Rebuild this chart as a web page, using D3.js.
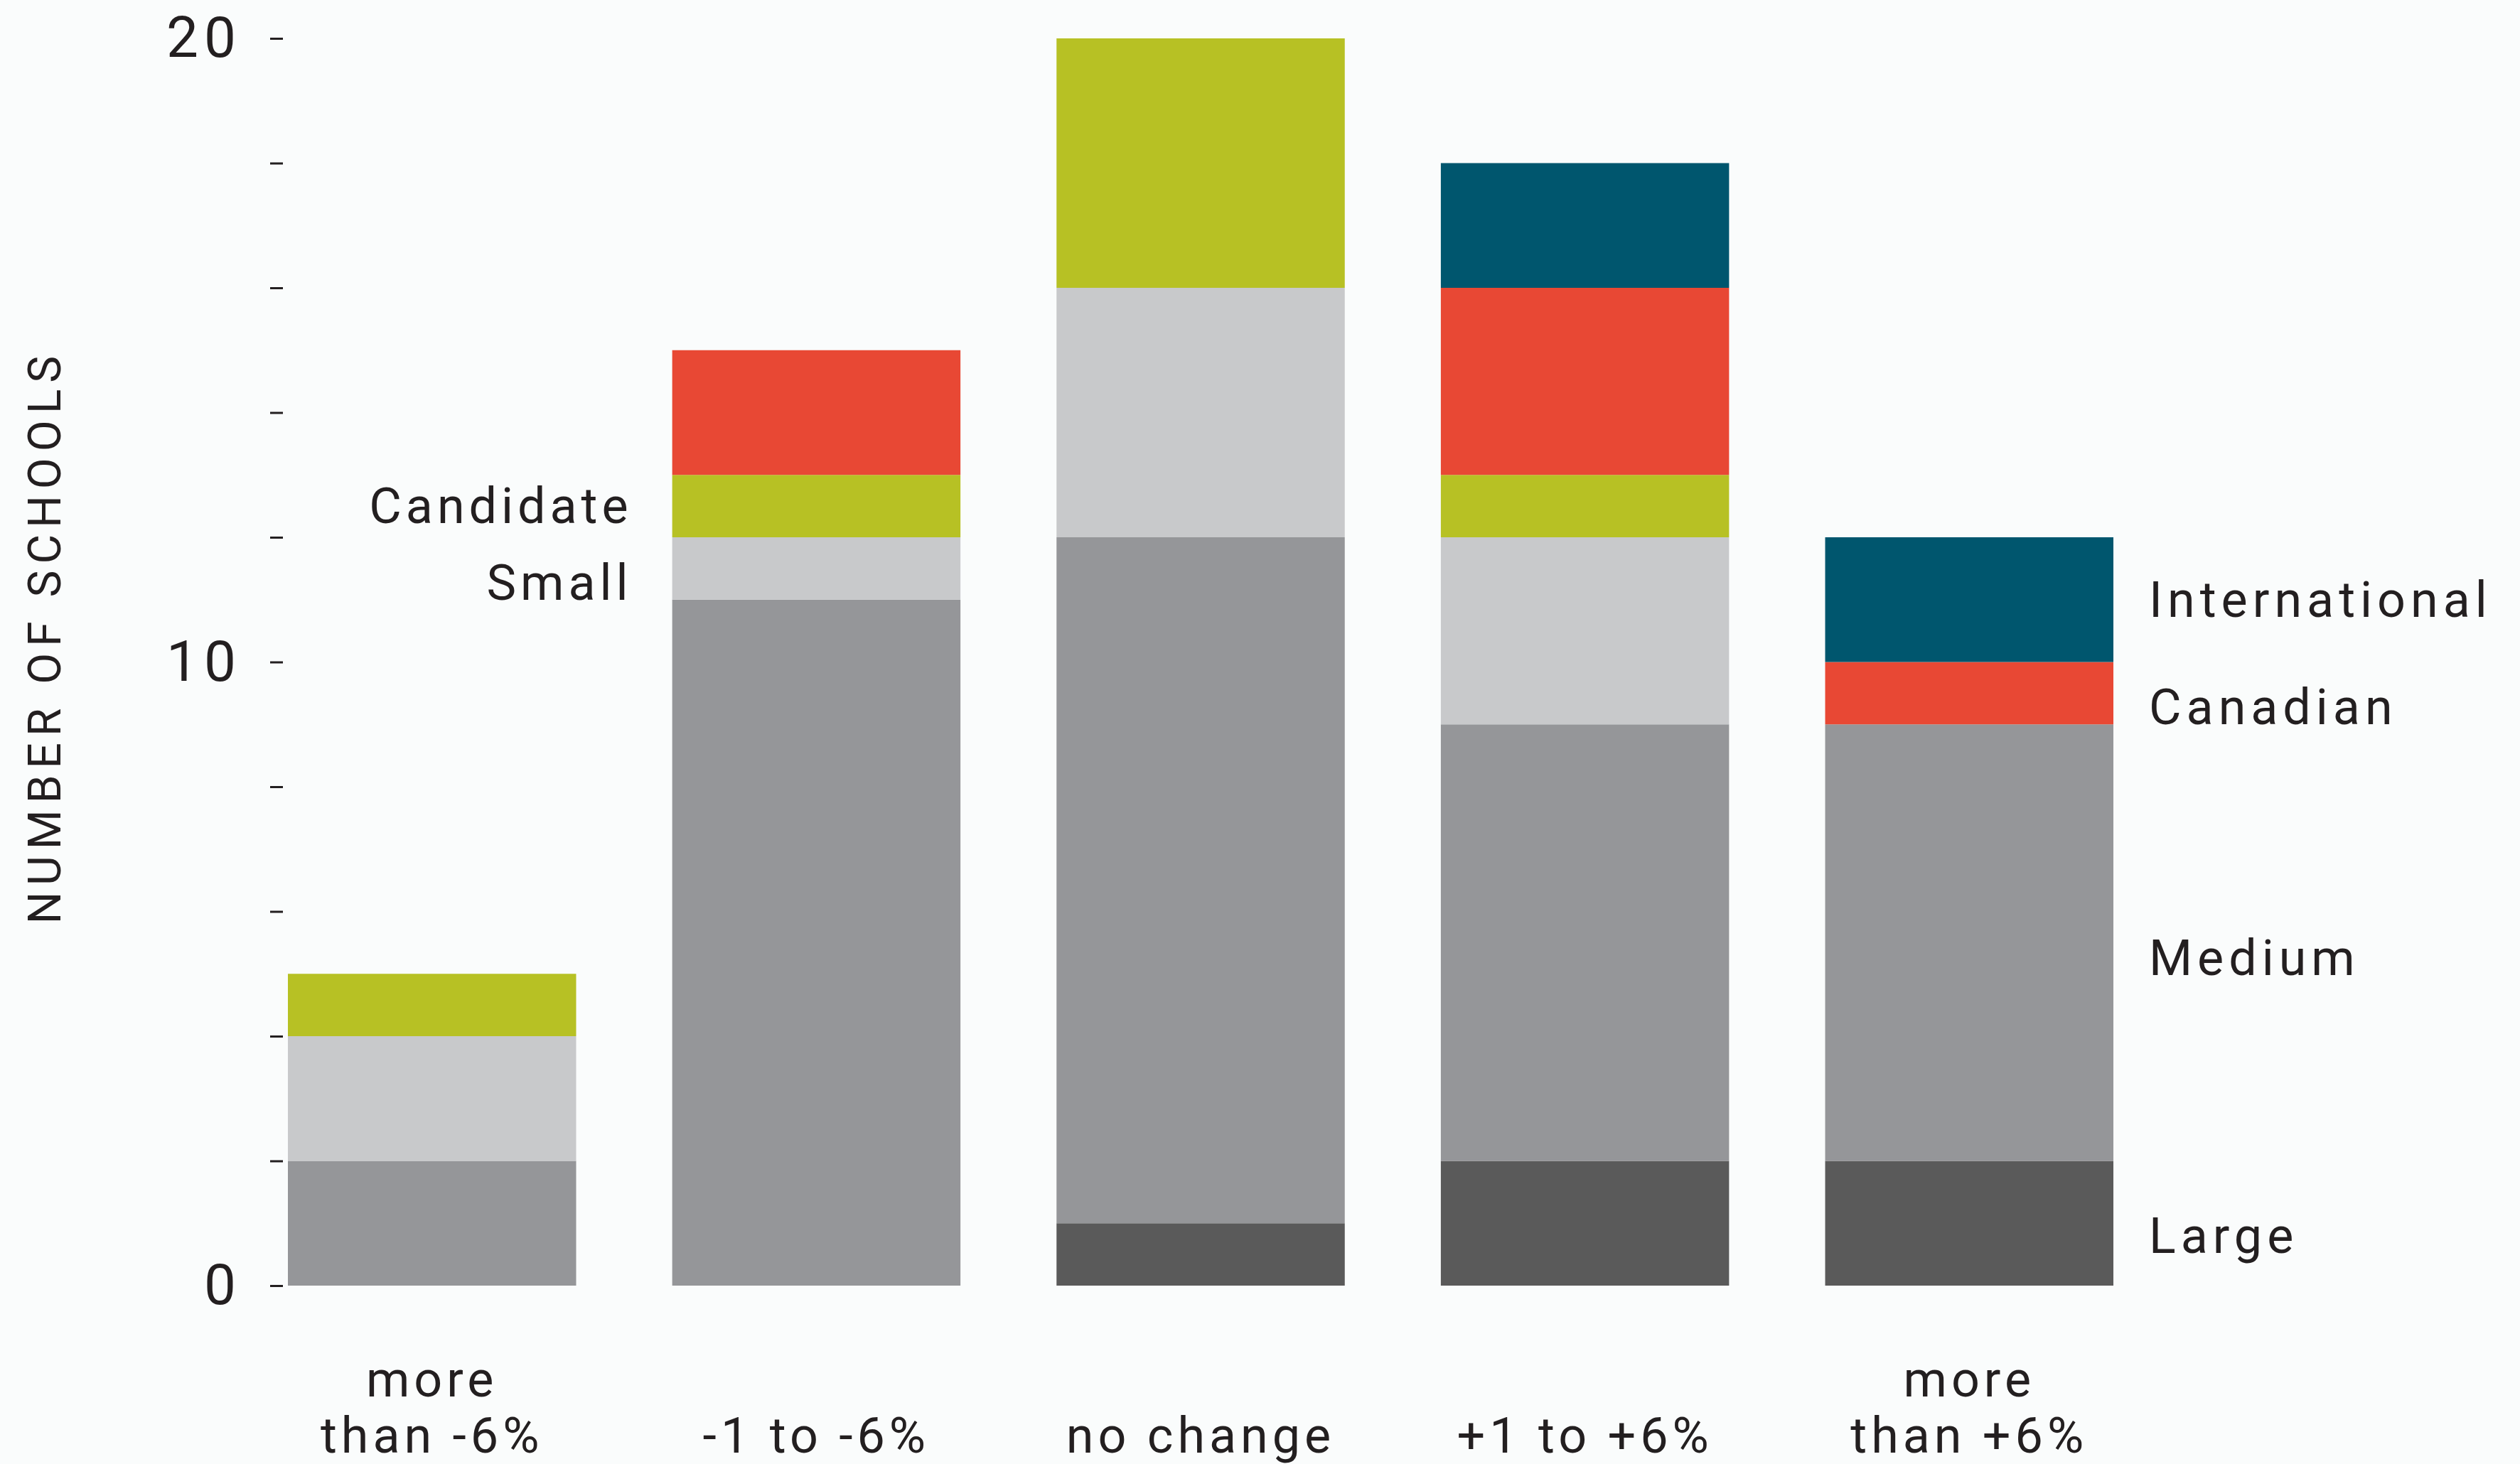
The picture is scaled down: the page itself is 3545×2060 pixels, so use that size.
<!DOCTYPE html>
<html>
<head>
<meta charset="utf-8">
<script src="https://cdn.jsdelivr.net/npm/d3@7"></script>
<style>
  html, body { margin: 0; padding: 0; background: #fafcfc; }
  svg { display: block; }
  text { font-family: Roboto, "Noto Sans", sans-serif; font-weight: 400; fill: #231f20; }
</style>
</head>
<body>
<script>
const width = 3545;
const height = 2060;

// data
const categories = ["more|than -6%", "-1 to -6%", "no change", "+1 to +6%", "more|than +6%"];
const seriesNames = ["Large", "Medium", "Small", "Candidate", "Canadian", "International"];
const large         = [0, 0, 1, 2, 2];
const medium        = [2, 11, 11, 7, 7];
const small         = [2, 1, 4, 3, 0];
const candidate     = [1, 1, 4, 1, 0];
const canadian      = [0, 2, 0, 3, 1];
const international = [0, 0, 0, 2, 2];
const yTicks = [0, 2, 4, 6, 8, 10, 12, 14, 16, 18, 20];
const yTickLabels = {0: "0", 10: "10", 20: "20"};

const colors = {
  Large: "#5a5a5a",
  Medium: "#959699",
  Small: "#c8c9cb",
  Candidate: "#b7c124",
  Canadian: "#e84834",
  International: "#00566e"
};

let rows = categories.map((c, i) => ({
  cat: c,
  Large: large[i],
  Medium: medium[i],
  Small: small[i],
  Candidate: candidate[i],
  Canadian: canadian[i],
  International: international[i]
}));

let stacked = d3.stack().keys(seriesNames)(rows);

let x = d3.scaleBand()
  .domain(categories)
  .range([405, 2973])
  .paddingInner(0.25)
  .paddingOuter(0);

let y = d3.scaleLinear()
  .domain([0, 20])
  .range([1809, 54]);

let svg = d3.select("body")
  .append("svg")
    .attr("width", width)
    .attr("height", height);

svg.append("rect")
  .attr("width", width)
  .attr("height", height)
  .attr("fill", "#fafcfc");

// bars
svg.append("g")
  .selectAll("g")
  .data(stacked)
  .enter()
  .append("g")
    .attr("fill", d => colors[d.key])
  .selectAll("rect")
  .data(d => d)
  .enter()
  .append("rect")
    .attr("x", d => x(d.data.cat))
    .attr("y", d => y(d[1]))
    .attr("width", x.bandwidth())
    .attr("height", d => y(d[0]) - y(d[1]));

// y axis
let yAxis = svg.append("g")
  .attr("transform", "translate(398,0)")
  .call(d3.axisLeft(y)
    .tickValues(yTicks)
    .tickSize(18)
    .tickPadding(40)
    .tickFormat(d => yTickLabels[d] || ""));

yAxis.select(".domain").remove();
yAxis.selectAll(".tick line")
  .attr("stroke", "#231f20")
  .attr("stroke-width", 3);
yAxis.selectAll(".tick text")
  .style("font-family", "Roboto, sans-serif")
  .style("font-size", "80px")
  .style("letter-spacing", "8px")
  .attr("fill", "#231f20");

// axis title
svg.append("text")
  .attr("transform", "translate(63,896) rotate(-90)")
  .attr("text-anchor", "middle")
  .attr("dominant-baseline", "central")
  .style("font-size", "64px")
  .style("letter-spacing", "9px")
  .text("NUMBER OF SCHOOLS");

// category labels
let catLabels = svg.append("g")
  .selectAll("text")
  .data(categories)
  .enter()
  .append("text")
    .attr("text-anchor", "middle")
    .attr("x", d => x(d) + x.bandwidth() / 2)
    .style("font-size", "70px")
    .style("letter-spacing", "6px");

catLabels.each(function(d) {
  let lines = d.split("|");
  let el = d3.select(this);
  lines.forEach((l, j) => {
    el.append("tspan")
      .attr("x", x(d) + x.bandwidth() / 2)
      .attr("y", 2044 - (lines.length - 1 - j) * 79)
      .text(l);
  });
});

// series labels: left of bar 2 for Candidate/Small, right of bar 5 for the rest
let leftCat = categories[1];
let rightCat = categories[4];
let leftKeys = ["Candidate", "Small"];
let rightKeys = ["International", "Canadian", "Medium", "Large"];
let labelNudge = {Candidate: 0, Small: 20, International: 0, Canadian: 20, Medium: 22, Large: 18};

function segMid(key, cat) {
  let s = stacked.find(d => d.key === key);
  let p = s[categories.indexOf(cat)];
  return (p[0] + p[1]) / 2;
}

svg.append("g")
  .selectAll("text")
  .data(leftKeys)
  .enter()
  .append("text")
    .attr("text-anchor", "end")
    .attr("dominant-baseline", "central")
    .attr("x", x(leftCat) - 56)
    .attr("y", d => y(segMid(d, leftCat)) + labelNudge[d])
    .style("font-size", "70px")
    .style("letter-spacing", "6px")
    .text(d => d);

svg.append("g")
  .selectAll("text")
  .data(rightKeys)
  .enter()
  .append("text")
    .attr("text-anchor", "start")
    .attr("dominant-baseline", "central")
    .attr("x", x(rightCat) + x.bandwidth() + 50)
    .attr("y", d => y(segMid(d, rightCat)) + labelNudge[d])
    .style("font-size", "70px")
    .style("letter-spacing", "7px")
    .text(d => d);
</script>
</body>
</html>
